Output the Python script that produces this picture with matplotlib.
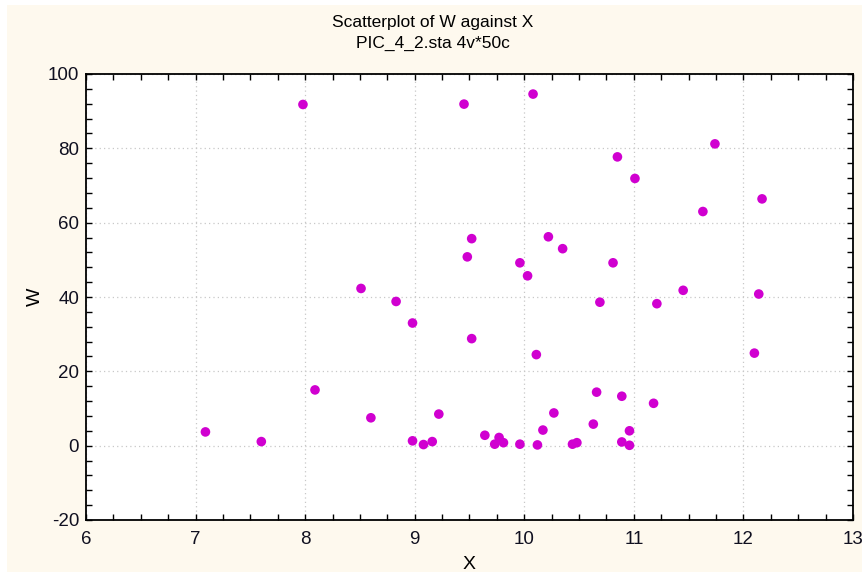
import matplotlib
matplotlib.use('Agg')
import matplotlib.pyplot as plt
from matplotlib.patches import Rectangle
from matplotlib.ticker import MultipleLocator

# Dane (50 obserwacji)
x_vals = [7.09, 7.60, 7.98, 8.09, 8.51, 8.60, 8.83, 8.98, 8.98, 9.08,
          9.16, 9.22, 9.45, 9.48, 9.52, 9.52, 9.64, 9.73, 9.77, 9.81,
          9.96, 9.96, 10.03, 10.08, 10.11, 10.12, 10.17, 10.22, 10.27, 10.35,
          10.44, 10.48, 10.63, 10.66, 10.69, 10.81, 10.85, 10.89, 10.89, 10.96,
          10.96, 11.01, 11.18, 11.21, 11.45, 11.63, 11.74, 12.10, 12.14, 12.17]
w_vals = [3.7, 1.1, 91.8, 15.0, 42.3, 7.5, 38.8, 33.0, 1.3, 0.3,
          1.1, 8.5, 91.9, 50.8, 55.7, 28.8, 2.8, 0.4, 2.2, 0.8,
          0.4, 49.2, 45.7, 94.6, 24.5, 0.2, 4.2, 56.2, 8.8, 53.0,
          0.4, 0.8, 5.8, 14.4, 38.6, 49.2, 77.7, 13.3, 1.0, 4.0,
          0.1, 71.9, 11.4, 38.2, 41.8, 63.0, 81.2, 24.9, 40.8, 66.4]

title_lines = ['Scatterplot of W against X', 'PIC_4_2.sta 4v*50c']

plt.rcParams['font.family'] = ['Liberation Sans', 'DejaVu Sans']
plt.rcParams['axes.unicode_minus'] = False

fig = plt.figure(figsize=(8.66, 5.76), dpi=100, facecolor='white')

# Kremowe tło panelu (pod osiami)
bg = Rectangle((7 / 866, 4 / 576), 855 / 866, 567 / 576,
               transform=fig.transFigure, facecolor='#FEF9EE',
               edgecolor='none', zorder=-10)
fig.add_artist(bg)

ax = fig.add_axes([86 / 866, 56 / 576, 767 / 866, 446 / 576])
ax.set_facecolor('white')

ax.scatter(x_vals, w_vals, s=48, color='#D000D0', edgecolors='none', zorder=3)

ax.set_xlim(6, 13)
ax.set_ylim(-20, 100)
ax.xaxis.set_major_locator(MultipleLocator(1))
ax.xaxis.set_minor_locator(MultipleLocator(0.25))
ax.yaxis.set_major_locator(MultipleLocator(20))
ax.yaxis.set_minor_locator(MultipleLocator(4))

ax.tick_params(which='both', direction='in', top=True, right=True,
               length=4, width=1, color='black', labelsize=13.5,
               labelcolor='#101020')
ax.tick_params(axis='x', which='major', pad=8)
ax.tick_params(axis='y', which='major', pad=5)

ax.grid(True, which='major', linestyle=(0, (1, 2.5)), color='#C8C8C8', linewidth=0.9)

for sp in ax.spines.values():
    sp.set_linewidth(1.3)
    sp.set_color('black')

ax.set_xlabel('X', fontsize=14, labelpad=6)
ax.set_ylabel('W', fontsize=14, labelpad=3)

fig.text(0.5, 1 - 22 / 576, title_lines[0], ha='center', va='center', fontsize=12.5)
fig.text(0.5, 1 - 43 / 576, title_lines[1], ha='center', va='center', fontsize=12.5)

fig.savefig('out.png', dpi=100, facecolor=fig.get_facecolor())
plt.close()
